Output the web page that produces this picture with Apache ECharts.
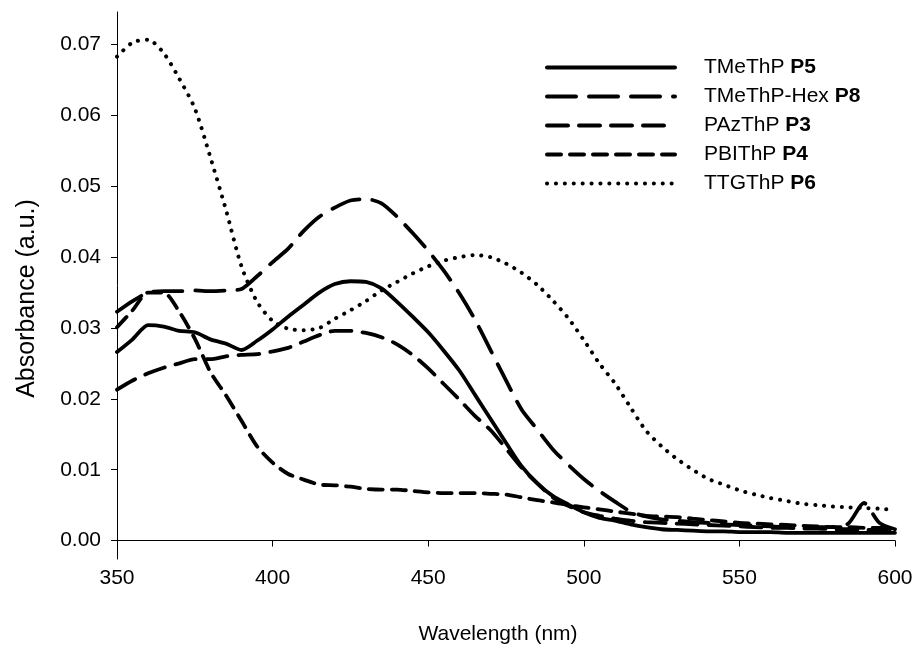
<!DOCTYPE html>
<html>
<head>
<meta charset="utf-8">
<script src="https://cdn.jsdelivr.net/npm/echarts@6/dist/echarts.min.js"></script>
<style>
    html, body { margin: 0; padding: 0; background: #fff; }
    #spectra { width: 918px; height: 656px; }
</style>
</head>
<body>
<div id="spectra"></div>
<script>
// 波长 (nm)，每 5 nm 一个点
var wavelengths = [350, 355, 360, 365, 370, 375, 380, 385, 390, 395,
    400, 405, 410, 415, 420, 425, 430, 435, 440, 445,
    450, 455, 460, 465, 470, 475, 480, 485, 490, 495,
    500, 505, 510, 515, 520, 525, 530, 535, 540, 545,
    550, 555, 560, 565, 570, 575, 580, 585, 590, 595, 600];

var yTicks = [0, 0.01, 0.02, 0.03, 0.04, 0.05, 0.06, 0.07];

// TMeThP P5 (实线)
var absP5 = [0.0266, 0.0284, 0.0304, 0.0302, 0.0296, 0.0294, 0.0284, 0.0278, 0.0269, 0.0282,
    0.0298, 0.0316, 0.0333, 0.0350, 0.0362, 0.0366, 0.0365, 0.0356, 0.0337, 0.0316,
    0.0294, 0.0268, 0.0240, 0.0206, 0.0172, 0.0138, 0.0105, 0.0081, 0.0063, 0.0051,
    0.0040, 0.0032, 0.0028, 0.0023, 0.0019, 0.0016, 0.0015, 0.0014, 0.0013, 0.0013,
    0.0012, 0.0012, 0.0012, 0.0011, 0.0011, 0.0011, 0.0011, 0.0011, 0.0011, 0.0011, 0.0011];

// TMeThP-Hex P8 (长虚线)
var absP8 = [0.0323, 0.0338, 0.0350, 0.0352, 0.0352, 0.0353, 0.0352, 0.0353, 0.0355, 0.0373,
    0.0393, 0.0412, 0.0437, 0.0457, 0.0470, 0.0480, 0.0482, 0.0476, 0.0457, 0.0434,
    0.0409, 0.0381, 0.0349, 0.0312, 0.0269, 0.0226, 0.0185, 0.0157, 0.0129, 0.0107,
    0.0087, 0.0070, 0.0055, 0.0041, 0.0034, 0.0030, 0.0028, 0.0026, 0.0025, 0.0023,
    0.0022, 0.0021, 0.0020, 0.0019, 0.0019, 0.0019, 0.0019, 0.0024, 0.0053, 0.0025, 0.0016];

// PAzThP P3 (中虚线)
var absP3 = [0.0213, 0.0226, 0.0236, 0.0244, 0.0250, 0.0256, 0.0256, 0.0260, 0.0262, 0.0263,
    0.0267, 0.0272, 0.0281, 0.0290, 0.0296, 0.0296, 0.0293, 0.0287, 0.0277, 0.0262,
    0.0243, 0.0221, 0.0199, 0.0176, 0.0156, 0.0130, 0.0103, 0.0081, 0.0061, 0.0049,
    0.0040, 0.0035, 0.0031, 0.0028, 0.0026, 0.0025, 0.0024, 0.0023, 0.0022, 0.0021,
    0.0020, 0.0019, 0.0018, 0.0018, 0.0017, 0.0017, 0.0016, 0.0016, 0.0015, 0.0015, 0.0014];

// PBIThP P4 (短虚线)
var absP4 = [0.0301, 0.0325, 0.0350, 0.0350, 0.0323, 0.0285, 0.0238, 0.0205, 0.0169, 0.0133,
    0.0110, 0.0094, 0.0086, 0.0079, 0.0078, 0.0076, 0.0073, 0.0072, 0.0072, 0.0070,
    0.0068, 0.0067, 0.0067, 0.0067, 0.0066, 0.0065, 0.0061, 0.0057, 0.0054, 0.0050,
    0.0047, 0.0044, 0.0041, 0.0038, 0.0035, 0.0034, 0.0033, 0.0031, 0.0029, 0.0027,
    0.0025, 0.0024, 0.0023, 0.0022, 0.0021, 0.0020, 0.0019, 0.0019, 0.0018, 0.0018, 0.0018];

// TTGThP P6 (点线)
var absP6 = [0.0683, 0.0703, 0.0707, 0.0688, 0.0652, 0.0610, 0.0541, 0.0467, 0.0387, 0.0337,
    0.0310, 0.0299, 0.0297, 0.0300, 0.0313, 0.0325, 0.0338, 0.0353, 0.0365, 0.0377,
    0.0387, 0.0395, 0.0400, 0.0403, 0.0400, 0.0391, 0.0378, 0.0361, 0.0339, 0.0314,
    0.0283, 0.0250, 0.0222, 0.0188, 0.0155, 0.0133, 0.0115, 0.0100, 0.0087, 0.0079,
    0.0071, 0.0065, 0.0060, 0.0056, 0.0052, 0.0050, 0.0048, 0.0047, 0.0046, 0.0045, 0.0043];

var FONT = 'Liberation Sans, Arial, sans-serif';

function pairs(values) {
    return wavelengths.map(function(w, i) {
        return [w, values[i]];
    });
}

function lineSeries(name, values, dash, width) {
    return {
        name : name,
        type : 'line',
        symbol : 'none',
        smooth : 0.25,
        data : pairs(values),
        lineStyle : {
            color : '#000',
            width : width,
            type : dash,
            cap : 'round'
        },
        itemStyle : {
            color : '#000'
        }
    };
}

var spectra = echarts.init(document.getElementById('spectra'));

spectra.setOption({
    backgroundColor : '#fff',
    animation : false,
    grid : {
        left : 117,
        right : 23,
        top : 12,
        bottom : 97
    },
    legend : {
        orient : 'vertical',
        left : 545,
        top : 57,
        padding : 0,
        itemWidth : 128,
        itemHeight : 14,
        itemGap : 8,
        itemStyle : { opacity : 0 },
        lineStyle : { width : 4, cap : 'round' },
        formatter : function(name) {
            var k = name.lastIndexOf(' ');
            return '{n|' + name.slice(0, k) + ' }{b|' + name.slice(k + 1) + '}';
        },
        textStyle : {
            color : '#000',
            fontFamily : FONT,
            fontSize : 21,
            rich : {
                n : { fontFamily : FONT, fontSize : 21, color : '#000', lineHeight : 21, padding : [0, 0, 0, 24] },
                b : { fontFamily : FONT, fontSize : 21, color : '#000', lineHeight : 21, fontWeight : 'bold' }
            }
        }
    },
    xAxis : {
        type : 'value',
        min : 350,
        max : 600,
        interval : 50,
        name : 'Wavelength (nm)',
        nameLocation : 'middle',
        nameGap : 65,
        nameTextStyle : {
            color : '#000',
            fontFamily : FONT,
            fontSize : 21,
            padding : [0, 16, 0, 0]
        },
        axisLine : { lineStyle : { color : '#000', width : 1 } },
        axisTick : { show : true, inside : false, length : 6, lineStyle : { color : '#000' } },
        axisLabel : { color : '#000', fontFamily : FONT, fontSize : 21, margin : 9 },
        splitLine : { show : false }
    },
    yAxis : {
        type : 'value',
        min : -0.0026,
        max : 0.0746,
        name : 'Absorbance (a.u.)',
        nameLocation : 'middle',
        nameGap : 77,
        nameTextStyle : {
            color : '#000',
            fontFamily : FONT,
            fontSize : 25,
            padding : [0, 26, 0, 0]
        },
        axisLine : { show : true, lineStyle : { color : '#000', width : 1 } },
        axisTick : { show : true, inside : false, length : 6, customValues : yTicks, lineStyle : { color : '#000' } },
        axisLabel : {
            color : '#000',
            fontFamily : FONT,
            fontSize : 21,
            margin : 16,
            customValues : yTicks,
            formatter : function(v) {
                return v.toFixed(2);
            }
        },
        splitLine : { show : false }
    },
    series : [
        lineSeries('TMeThP P5', absP5, 'solid', 3.8),
        lineSeries('TMeThP-Hex P8', absP8, [29, 13], 3.8),
        lineSeries('PAzThP P3', absP3, [21, 11], 3.8),
        lineSeries('PBIThP P4', absP4, [14, 9], 3.8),
        lineSeries('TTGThP P6', absP6, [0.1, 8.8], 4)
    ]
});
</script>
</body>
</html>
